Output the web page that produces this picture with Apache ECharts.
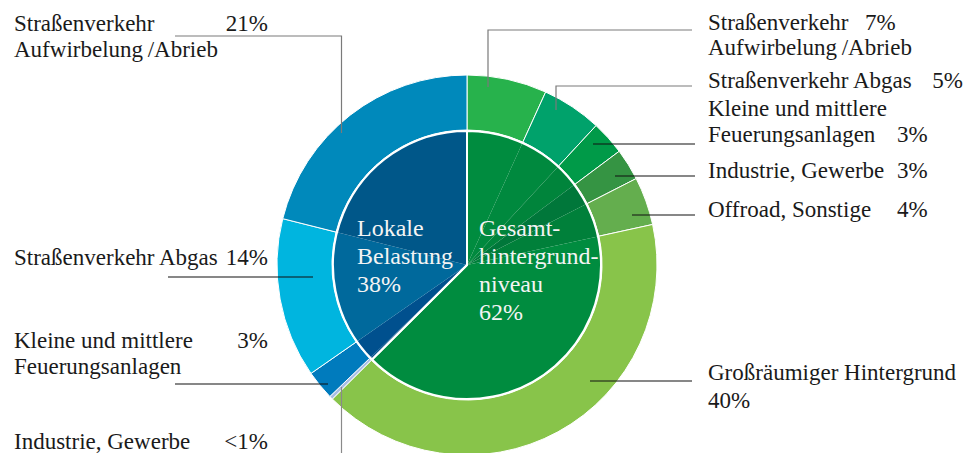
<!DOCTYPE html>
<html><head><meta charset="utf-8">
<script src="https://cdn.jsdelivr.net/npm/echarts@6/dist/echarts.min.js"></script>
<style>html,body{margin:0;padding:0;background:#fff}#c{width:965px;height:453px}</style>
</head><body><div id="c"></div>
<script>
// Data (clockwise from 12 o'clock)
const groupNames = ['Gesamthintergrundniveau', 'Lokale Belastung'];
const groupLabels = ['62%', '38%'];
const greenNames = ['Straßenverkehr Aufwirbelung/Abrieb', 'Straßenverkehr Abgas', 'Kleine und mittlere Feuerungsanlagen', 'Industrie, Gewerbe', 'Offroad, Sonstige', 'Großräumiger Hintergrund'];
const greenValues = [6.8, 5.1, 2.9, 2.7, 4.1, 41.0];
const greenLabels = ['7%', '5%', '3%', '3%', '4%', '40%'];
const blueNames = ['Industrie, Gewerbe', 'Kleine und mittlere Feuerungsanlagen', 'Straßenverkehr Abgas', 'Straßenverkehr Aufwirbelung/Abrieb'];
const blueValues = [0.3, 2.5, 13.6, 21.1];
const blueLabels = ['<1%', '3%', '14%', '21%'];

const outerColors = ['#27b24c', '#00a26b', '#009a48', '#359443', '#64ae4e', '#88c44a', '#a9bde3', '#007bbd', '#00b5df', '#0089bb'];
const innerColors = ['#008c3f', '#00893e', '#00843b', '#00773a', '#00803a', '#008c3f', '#004f8c', '#00508e', '#00699c', '#005789'];

const sum = a => a.reduce((s, v) => s + v, 0);
const allNames = greenNames.concat(blueNames);
const allValues = greenValues.concat(blueValues);

const CX = 467, CY = 265, R_IN = 134, R_OUT = 190;
const FONT = '"Liberation Serif", "Times New Roman", serif';

const chart = echarts.init(document.getElementById('c'), null, { renderer: 'svg' });

function txt(x, y, text, opts) {
  opts = opts || {};
  return { type: 'text', z: 100, x: x, y: y, silent: true,
    style: { text: text, fill: opts.fill || '#1a1a1a', font: (opts.size || 23) + 'px ' + FONT,
      align: opts.align || 'left', verticalAlign: 'middle' } };
}
function line(points, color, w) {
  return { type: 'polyline', z: 100, silent: true, shape: { points: points },
    style: { stroke: color, lineWidth: w || 1.2, fill: null } };
}

const graphics = [
  // left side
  txt(14, 23, 'Straßenverkehr'), txt(268, 23, blueLabels[3], { align: 'right' }),
  txt(14, 49, 'Aufwirbelung\u2009/Abrieb'),
  txt(14, 257, 'Straßenverkehr Abgas'), txt(268, 257, blueLabels[2], { align: 'right' }),
  txt(14, 340, 'Kleine und mittlere'), txt(268, 340, blueLabels[1], { align: 'right' }),
  txt(14, 366, 'Feuerungsanlagen'),
  txt(14, 441, 'Industrie, Gewerbe'), txt(268, 441, blueLabels[0], { align: 'right' }),
  // right side
  txt(708, 22, 'Straßenverkehr'), txt(865, 22, greenLabels[0]),
  txt(708, 47, 'Aufwirbelung\u2009/Abrieb'),
  txt(708, 80, 'Straßenverkehr Abgas'), txt(963, 80, greenLabels[1], { align: 'right' }),
  txt(708, 108, 'Kleine und mittlere'),
  txt(708, 134, 'Feuerungsanlagen'), txt(897, 134, greenLabels[2]),
  txt(708, 170, 'Industrie, Gewerbe'), txt(897, 170, greenLabels[3]),
  txt(708, 209, 'Offroad, Sonstige'), txt(897, 209, greenLabels[4]),
  txt(708, 372, 'Großräumiger Hintergrund'),
  txt(708, 400, greenLabels[5]),
  // inner labels
  txt(357, 228, 'Lokale', { fill: '#f4f4f4', size: 24 }),
  txt(357, 256, 'Belastung', { fill: '#f4f4f4', size: 24 }),
  txt(357, 284, groupLabels[1], { fill: '#f4f4f4', size: 24 }),
  txt(479, 228, 'Gesamt-', { fill: '#f4f4f4', size: 24 }),
  txt(479, 256, 'hintergrund-', { fill: '#f4f4f4', size: 24 }),
  txt(479, 284, 'niveau', { fill: '#f4f4f4', size: 24 }),
  txt(479, 312, groupLabels[0], { fill: '#f4f4f4', size: 24 }),
  // leader lines
  line([[175, 36], [341.5, 36], [341.5, 133]], '#7a7a7a', 1.2),
  line([[692, 30], [488, 30], [488, 87]], '#7a7a7a', 1.2),
  line([[692, 86], [556, 86], [556, 110]], '#7a7a7a', 1.2),
  line([[593, 144], [695, 144]], '#111', 1.2),
  line([[615, 176], [695, 176]], '#111', 1.2),
  line([[632, 215], [695, 215]], '#111', 1.2),
  line([[590, 381], [692, 381]], '#111', 1.2),
  line([[168, 277], [313, 277]], '#111', 1.2),
  line([[175, 384], [328, 384]], '#111', 1.2),
  line([[341.5, 387], [341.5, 453]], '#8a8a8a', 1.2)
];

chart.setOption({
  animation: false,
  backgroundColor: '#ffffff',
  series: [
    {
      type: 'pie', name: 'inner-detail', center: [CX, CY], radius: [0, R_IN],
      startAngle: 90, clockwise: true, silent: true, z: 2,
      label: { show: false }, labelLine: { show: false },
      emphasis: { disabled: true },
      data: allValues.map((v, i) => ({ name: allNames[i], value: v, itemStyle: { color: innerColors[i], borderWidth: 0 } }))
    },
    {
      type: 'pie', name: 'groups', center: [CX, CY], radius: [0, R_IN],
      startAngle: 90, clockwise: true, silent: true, z: 3,
      label: { show: false }, labelLine: { show: false },
      emphasis: { disabled: true },
      data: [
        { name: groupNames[0], value: sum(greenValues), itemStyle: { color: 'rgba(0,0,0,0)', borderColor: '#ffffff', borderWidth: 2 } },
        { name: groupNames[1], value: sum(blueValues), itemStyle: { color: 'rgba(0,0,0,0)', borderColor: '#ffffff', borderWidth: 2 } }
      ]
    },
    {
      type: 'pie', name: 'outer', center: [CX, CY], radius: [R_IN + 1, R_OUT],
      startAngle: 90, clockwise: true, silent: true, z: 2,
      label: { show: false }, labelLine: { show: false },
      emphasis: { disabled: true },
      data: allValues.map((v, i) => ({ name: allNames[i], value: v, itemStyle: { color: outerColors[i], borderColor: '#ffffff', borderWidth: 1 } }))
    }
  ],
  graphic: graphics
});
</script></body></html>
